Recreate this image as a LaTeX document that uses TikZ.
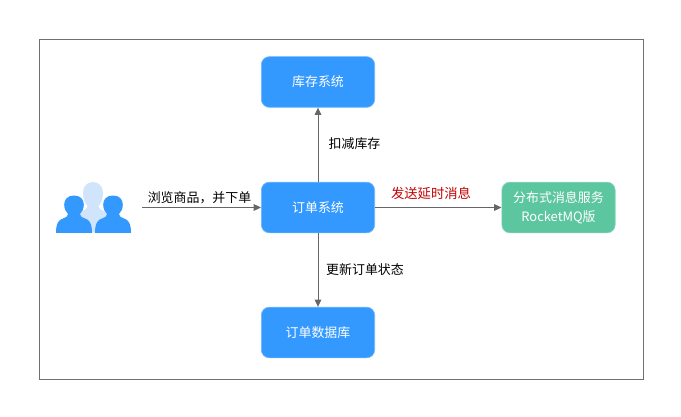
\documentclass[tikz,border=0pt]{standalone}
\usepackage{fontspec}
\setmainfont{Noto Sans CJK SC}
\usetikzlibrary{arrows.meta}
\definecolor{sysblue}{HTML}{3399FF}
\definecolor{mqgreen}{HTML}{5CC6A0}
\definecolor{palebl}{HTML}{D0E4FC}
\definecolor{linegray}{HTML}{666666}
\definecolor{framegray}{HTML}{707070}
\definecolor{alertred}{HTML}{C00000}
\tikzset{
  sysbox/.style={draw=#1!70!white,line width=0.5pt,fill=#1,rounded corners=6pt,minimum width=85pt,minimum height=38pt,inner sep=0pt,text=white,align=center,font=\fontsize{9.7pt}{14pt}\selectfont},
  conn/.style={draw=linegray,line width=0.75pt,-{Triangle[length=5.5pt,width=5pt]}},
  lbl/.style={font=\fontsize{9.7pt}{12pt}\selectfont,text=black,inner sep=0pt},
}
\begin{document}
\begin{tikzpicture}[x=0.75pt,y=-0.75pt]
\useasboundingbox (0,0) rectangle (681,417);
\draw[framegray,line width=0.6pt] (39.7,39.7) rectangle (643.3,379.3);
\node[sysbox=sysblue] (stock) at (318,82) {库存系统};
\node[sysbox=sysblue] (order) at (318,207.5) {订单系统};
\node[sysbox=sysblue] (db) at (318,332.5) {订单数据库};
\node[sysbox=mqgreen] (mq) at (558.5,207.5) {分布式消息服务\\RocketMQ版};
% users
\coordinate (userend) at (142,207.5);
\fill[palebl] (93,182) .. controls (86.5,182) and (83,187) .. (83,193) .. controls (83,199) and (85,203) .. (87.5,206) .. controls (87.5,209) and (84,211) .. (76,213) -- (76,232.5) -- (110,232.5) -- (110,213) .. controls (102,211) and (98.5,209) .. (98.5,206) .. controls (101,203) and (103,199) .. (103,193) .. controls (103,187) and (99.5,182) .. (93,182) -- cycle;
\foreach \cx in {74,113}{
\fill[sysblue] (\cx,195.5) .. controls (\cx-6.5,195.5) and (\cx-9.8,199.5) .. (\cx-9.8,204.5) .. controls (\cx-9.8,209) and (\cx-8,212) .. (\cx-6,214) .. controls (\cx-6,216.5) and (\cx-8,217.5) .. (\cx-11,218.5) .. controls (\cx-15,219.5) and (\cx-18,223) .. (\cx-18,232.8) -- (\cx+18,232.8) .. controls (\cx+18,223) and (\cx+15,219.5) .. (\cx+11,218.5) .. controls (\cx+8,217.5) and (\cx+6,216.5) .. (\cx+6,214) .. controls (\cx+8,212) and (\cx+9.8,209) .. (\cx+9.8,204.5) .. controls (\cx+9.8,199.5) and (\cx+6.5,195.5) .. (\cx,195.5) -- cycle;
}
\draw[conn] (userend) -- (order.west);
\draw[conn] (order.north) -- (stock.south);
\draw[conn] (order.south) -- (db.north);
\draw[conn] (order.east) -- (mq.west);
\node[lbl] (l1) at (199.5,197.5) {浏览商品，并下单};
\node[lbl] (l2) at (354.5,143.5) {扣减库存};
\node[lbl] (l3) at (365,269.5) {更新订单状态};
\node[lbl,text=alertred,font=\fontsize{10pt}{12pt}\selectfont] (l4) at (431,193.5) {发送延时消息};
\end{tikzpicture}
\end{document}
